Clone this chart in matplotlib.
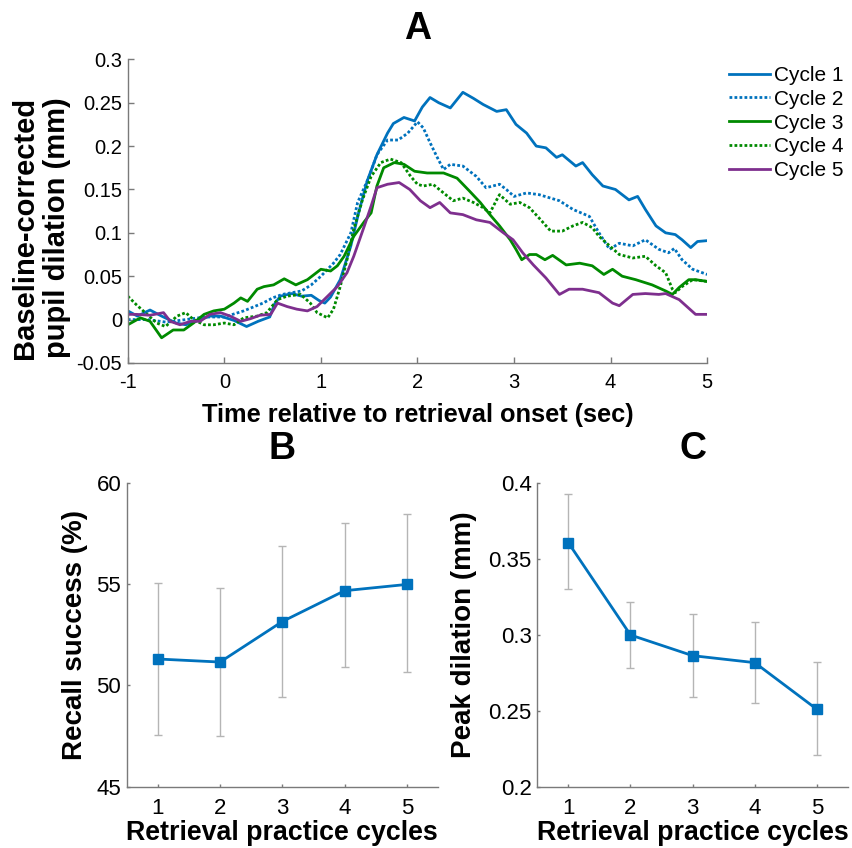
import matplotlib
matplotlib.use('Agg')
from matplotlib import pyplot as plt
from matplotlib.ticker import FuncFormatter

plt.rcParams['font.family'] = ['Liberation Sans', 'DejaVu Sans']
plt.rcParams['axes.unicode_minus'] = False

# panel A: pupil dilation time courses
c1_t = [-1.0, -0.9, -0.77, -0.65, -0.5, -0.4, -0.3, -0.15, -0.04, 0.1, 0.23, 0.35, 0.47, 0.52, 0.58,
        0.7, 0.8, 0.9, 0.98, 1.04, 1.1, 1.2, 1.31, 1.39, 1.48, 1.58, 1.69, 1.75, 1.86, 1.97, 2.05,
        2.13, 2.22, 2.34, 2.47, 2.58, 2.68, 2.82, 2.92, 3.02, 3.13, 3.23, 3.33, 3.44, 3.5, 3.64, 3.71,
        3.81, 3.92, 4.05, 4.19, 4.28, 4.36, 4.47, 4.57, 4.67, 4.74, 4.83, 4.9, 5.0]
c1_v = [0.010, 0.004, 0.011, 0.004, -0.004, -0.006, -0.002, 0.004, 0.004, -0.001, -0.008, -0.002,
        0.003, 0.018, 0.027, 0.030, 0.027, 0.028, 0.022, 0.019, 0.026, 0.046, 0.085, 0.123, 0.160,
        0.190, 0.215, 0.226, 0.233, 0.229, 0.245, 0.256, 0.250, 0.244, 0.262, 0.255, 0.248, 0.240,
        0.242, 0.225, 0.215, 0.200, 0.198, 0.187, 0.190, 0.177, 0.181, 0.167, 0.154, 0.150, 0.138,
        0.142, 0.127, 0.108, 0.100, 0.098, 0.092, 0.083, 0.090, 0.091]

c2_t = [-1.0, -0.8, -0.6, -0.4, -0.2, 0.0, 0.2, 0.4, 0.5, 0.6, 0.8, 0.9, 1.0, 1.13, 1.2, 1.31, 1.38,
        1.5, 1.58, 1.69, 1.8, 1.9, 2.0, 2.06, 2.13, 2.2, 2.27, 2.34, 2.47, 2.61, 2.71, 2.85, 2.92, 3.0,
        3.13, 3.26, 3.47, 3.61, 3.78, 3.88, 3.99, 4.09, 4.23, 4.36, 4.5, 4.6, 4.66, 4.74, 4.85, 5.0]
c2_v = [0.0, 0.0, -0.003, 0.0, 0.003, 0.003, 0.010, 0.019, 0.025, 0.029, 0.033, 0.040, 0.050, 0.065,
        0.075, 0.100, 0.135, 0.165, 0.190, 0.207, 0.207, 0.215, 0.228, 0.221, 0.204, 0.188, 0.173,
        0.179, 0.177, 0.165, 0.152, 0.156, 0.150, 0.142, 0.146, 0.144, 0.137, 0.127, 0.119, 0.100,
        0.081, 0.088, 0.085, 0.092, 0.081, 0.077, 0.082, 0.069, 0.058, 0.052]

c3_t = [-1.0, -0.87, -0.77, -0.65, -0.53, -0.42, -0.32, -0.21, -0.11, 0.0, 0.1, 0.17, 0.24, 0.34,
        0.41, 0.51, 0.62, 0.74, 0.86, 1.0, 1.1, 1.17, 1.24, 1.34, 1.45, 1.52, 1.58, 1.65, 1.76, 1.86,
        1.97, 2.1, 2.27, 2.41, 2.54, 2.65, 2.75, 2.85, 2.96, 3.02, 3.08, 3.16, 3.23, 3.32, 3.4, 3.54,
        3.68, 3.81, 3.93, 4.02, 4.12, 4.26, 4.43, 4.57, 4.64, 4.71, 4.81, 4.88, 5.0]
c3_v = [-0.006, 0.002, -0.002, -0.021, -0.012, -0.012, -0.004, 0.006, 0.010, 0.012, 0.019, 0.025,
        0.021, 0.035, 0.038, 0.040, 0.047, 0.040, 0.046, 0.058, 0.056, 0.062, 0.073, 0.096, 0.113,
        0.123, 0.154, 0.175, 0.181, 0.179, 0.171, 0.169, 0.169, 0.163, 0.148, 0.135, 0.121, 0.108,
        0.092, 0.081, 0.069, 0.075, 0.075, 0.069, 0.074, 0.063, 0.065, 0.062, 0.052, 0.058, 0.050,
        0.046, 0.040, 0.033, 0.029, 0.037, 0.046, 0.046, 0.044]

c4_t = [-1.0, -0.91, -0.8, -0.7, -0.61, -0.49, -0.4, -0.32, -0.21, -0.11, 0.0, 0.1, 0.2, 0.34, 0.44,
        0.55, 0.65, 0.79, 0.89, 0.96, 1.07, 1.13, 1.2, 1.27, 1.34, 1.43, 1.52, 1.62, 1.72, 1.83, 1.93,
        2.0, 2.06, 2.16, 2.27, 2.37, 2.47, 2.58, 2.68, 2.75, 2.82, 2.85, 2.96, 3.06, 3.16, 3.26, 3.38,
        3.5, 3.61, 3.71, 3.81, 3.88, 3.99, 4.09, 4.23, 4.36, 4.47, 4.57, 4.64, 4.67, 4.74, 4.85, 5.0]
c4_v = [0.027, 0.017, 0.006, -0.004, -0.008, 0.004, 0.008, 0.000, -0.006, -0.006, -0.004, -0.006,
        0.002, 0.004, 0.008, 0.023, 0.027, 0.029, 0.019, 0.008, 0.002, 0.012, 0.038, 0.069, 0.104,
        0.138, 0.165, 0.181, 0.185, 0.181, 0.165, 0.156, 0.154, 0.156, 0.146, 0.137, 0.140, 0.135,
        0.129, 0.123, 0.138, 0.144, 0.133, 0.135, 0.129, 0.117, 0.102, 0.102, 0.108, 0.112, 0.106,
        0.096, 0.085, 0.075, 0.071, 0.073, 0.062, 0.054, 0.035, 0.031, 0.038, 0.046, 0.044]

c5_t = [-1.0, -0.91, -0.77, -0.63, -0.56, -0.46, -0.35, -0.25, -0.15, -0.04, 0.06, 0.17, 0.27, 0.37,
        0.48, 0.55, 0.65, 0.75, 0.86, 0.96, 1.07, 1.17, 1.27, 1.34, 1.45, 1.52, 1.58, 1.69, 1.81, 1.92,
        2.03, 2.13, 2.23, 2.34, 2.47, 2.61, 2.75, 2.89, 2.99, 3.09, 3.2, 3.33, 3.47, 3.57, 3.71, 3.88,
        4.02, 4.09, 4.23, 4.36, 4.5, 4.57, 4.71, 4.81, 4.88, 5.0]
c5_v = [0.006, 0.006, 0.005, 0.008, -0.002, -0.006, -0.002, -0.002, 0.006, 0.008, 0.004, -0.002,
        0.001, 0.005, 0.006, 0.019, 0.015, 0.012, 0.010, 0.015, 0.027, 0.038, 0.054, 0.073, 0.108,
        0.131, 0.152, 0.156, 0.158, 0.150, 0.137, 0.129, 0.135, 0.123, 0.121, 0.115, 0.112, 0.100,
        0.092, 0.077, 0.063, 0.048, 0.029, 0.035, 0.035, 0.031, 0.019, 0.016, 0.029, 0.030, 0.029,
        0.030, 0.023, 0.013, 0.006, 0.006]

# panels B and C
cycles = [1, 2, 3, 4, 5]
recall = [51.3, 51.15, 53.15, 54.67, 54.98]
recall_lo = [47.53, 47.5, 49.44, 50.9, 50.67]
recall_hi = [55.07, 54.8, 56.88, 57.99, 58.44]
peak = [0.3605, 0.2998, 0.2862, 0.2816, 0.2509]
peak_lo = [0.330, 0.2779, 0.259, 0.2553, 0.2208]
peak_hi = [0.3923, 0.3217, 0.3134, 0.3081, 0.2818]

blue = '#0072BD'
green = '#008a00'
purple = '#7E2F8E'
axgray = '#7a7a7a'

fig = plt.figure(figsize=(8.52, 8.48), dpi=100)


def style(ax, tick_len, xpad, ypad, size):
    for s in ['top', 'right']:
        ax.spines[s].set_visible(False)
    for s in ['left', 'bottom']:
        ax.spines[s].set_color(axgray)
        ax.spines[s].set_linewidth(1)
    ax.tick_params(direction='in', length=tick_len, width=1, color=axgray, labelsize=size)
    ax.tick_params(axis='x', pad=xpad)
    ax.tick_params(axis='y', pad=ypad)


fmt = FuncFormatter(lambda v, p: '%g' % round(v, 3))

# A
axA = fig.add_axes([0.150, 0.572, 0.680, 0.358])
axA.plot(c1_t, c1_v, color=blue, lw=2, label='Cycle 1')
axA.plot(c2_t, c2_v, color=blue, lw=2, ls=(0, (1, 0.8)), label='Cycle 2')
axA.plot(c3_t, c3_v, color=green, lw=2, label='Cycle 3')
axA.plot(c4_t, c4_v, color=green, lw=2, ls=(0, (1, 0.8)), label='Cycle 4')
axA.plot(c5_t, c5_v, color=purple, lw=2, label='Cycle 5')
axA.set_xlim(-1, 5)
axA.set_ylim(-0.05, 0.3)
axA.set_xticks([-1, 0, 1, 2, 3, 4, 5])
axA.set_yticks([-0.05, 0, 0.05, 0.1, 0.15, 0.2, 0.25, 0.3])
axA.yaxis.set_major_formatter(fmt)
style(axA, 4.5, 7, 4, 14.5)
axA.set_xlabel('Time relative to retrieval onset (sec)', fontsize=18.3, fontweight='bold', labelpad=8)
axA.set_ylabel('Baseline-corrected\npupil dilation (mm)', fontsize=21, fontweight='bold',
               labelpad=4, linespacing=1.2, y=0.445)
axA.set_title('A', fontsize=27, fontweight='bold', pad=15)
axA.legend(loc='upper left', bbox_to_anchor=(729 / 852, 1 - 66 / 848),
           bbox_transform=fig.transFigure, frameon=False, fontsize=15,
           handlelength=1.95, handletextpad=0.2, labelspacing=0.23, borderpad=0, borderaxespad=0)

# B
axB = fig.add_axes([0.1487, 0.0723, 0.3654, 0.3585])
errB = [[r - lo for r, lo in zip(recall, recall_lo)], [hi - r for r, hi in zip(recall, recall_hi)]]
axB.errorbar(cycles, recall, yerr=errB, fmt='none', ecolor='#b5b5b5', elinewidth=1, capsize=3)
axB.plot(cycles, recall, color=blue, lw=2, marker='s', ms=7)
axB.set_xlim(0.5, 5.5)
axB.set_ylim(45, 60)
axB.set_xticks(cycles)
axB.set_yticks([45, 50, 55, 60])
style(axB, 2.5, 8, 4, 16)
axB.set_xlabel('Retrieval practice cycles', fontsize=19.3, fontweight='bold', labelpad=1)
axB.set_ylabel('Recall success (%)', fontsize=20, fontweight='bold', labelpad=6)
axB.set_title('B', fontsize=27, fontweight='bold', pad=17)

# C
axC = fig.add_axes([0.6306, 0.0723, 0.3647, 0.3585])
errC = [[p - lo for p, lo in zip(peak, peak_lo)], [hi - p for p, hi in zip(peak, peak_hi)]]
axC.errorbar(cycles, peak, yerr=errC, fmt='none', ecolor='#b5b5b5', elinewidth=1, capsize=3)
axC.plot(cycles, peak, color=blue, lw=2, marker='s', ms=7)
axC.set_xlim(0.5, 5.5)
axC.set_ylim(0.2, 0.4)
axC.set_xticks(cycles)
axC.set_yticks([0.2, 0.25, 0.3, 0.35, 0.4])
axC.yaxis.set_major_formatter(fmt)
style(axC, 2.5, 8, 4, 16)
axC.set_xlabel('Retrieval practice cycles', fontsize=19.3, fontweight='bold', labelpad=1)
axC.set_ylabel('Peak dilation (mm)', fontsize=20, fontweight='bold', labelpad=8)
axC.set_title('C', fontsize=27, fontweight='bold', pad=17)

fig.savefig('out.png', dpi=100)
